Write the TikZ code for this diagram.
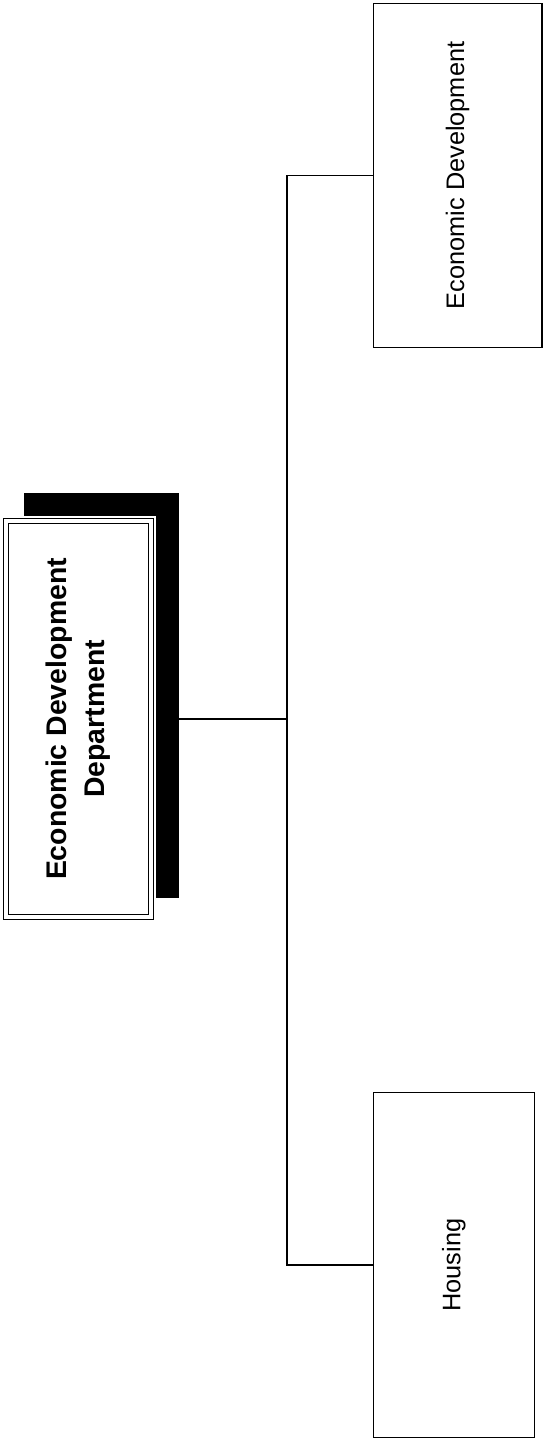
\documentclass[tikz,border=0pt]{standalone}
\usepackage{fontspec}
\setmainfont{Liberation Sans}
\usepackage{graphicx}
\usetikzlibrary{calc,backgrounds}

\tikzset{
  unitbox/.style={draw=black,line width=1.1pt,fill=white,inner sep=0pt,
    font=\fontsize{19}{22}\selectfont},
  deptbox/.style={draw=black,line width=0.9pt,double=white,double distance=2.85pt,
    fill=white,inner sep=0pt,font=\fontsize{21.3}{28.5}\selectfont\bfseries},
  orgline/.style={draw=black,line width=1pt},
}

\begin{document}
\begin{tikzpicture}[x=0.75pt,y=-0.75pt]
  % --- frame ---
  \useasboundingbox (0,0) rectangle (544,1440);

  % --- department box ---
  \node[deptbox,minimum width=108.5pt,minimum height=296.6pt] (dept) at (78.35,719)
    {\rotatebox{90}{\begin{tabular}{@{}c@{}}Economic Development\\Department\end{tabular}}};

  % --- units ---
  \node[unitbox,minimum width=126.4pt,minimum height=258.2pt] (ecodev) at (457.55,175.4)
    {\rotatebox{90}{Economic Development}};
  \node[unitbox,minimum width=120.8pt,minimum height=258.8pt] (housing) at (453.8,1265)
    {\rotatebox{90}{Housing}};

  \coordinate (bus) at (287,719);

  \begin{scope}[on background layer]
    % connectors
    \draw[orgline] (dept.east) -- (bus);
    \draw[orgline] (ecodev.west) -| (bus) |- (housing.west);
    % shadow
    \fill[black] ($(dept.south west)+(19,-19)$) rectangle ($(dept.north east)+(27.6,-27.3)$);
    \draw[white,line width=7pt] (dept.south west) rectangle (dept.north east);
  \end{scope}
\end{tikzpicture}
\end{document}
